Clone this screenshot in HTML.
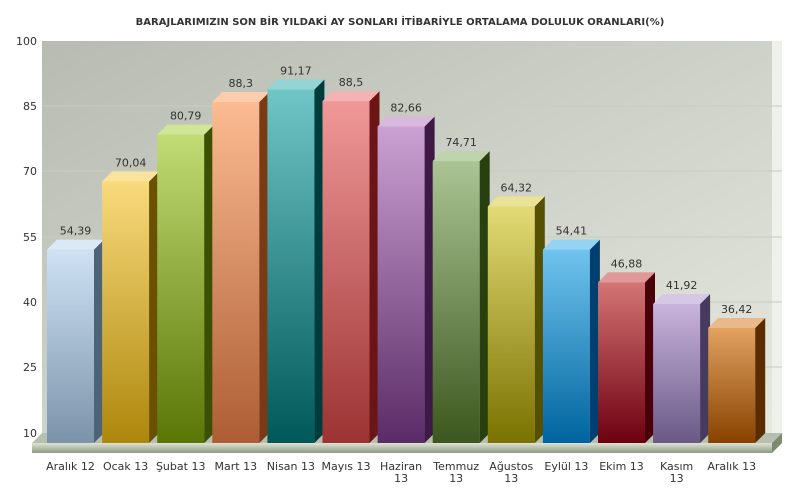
<!DOCTYPE html>
<html><head><meta charset="utf-8"><style>body{margin:0;background:#fff}svg{display:block;font-family:"DejaVu Sans","Liberation Sans",sans-serif}</style></head><body>
<svg width="800" height="500" viewBox="0 0 800 500" xmlns="http://www.w3.org/2000/svg">
<defs>
<linearGradient id="wall" x1="0" y1="0" x2="1" y2="1"><stop offset="0" stop-color="#b7bbb1"/><stop offset="1" stop-color="#e6e9e0"/></linearGradient>
<linearGradient id="floor" x1="0" y1="0" x2="0" y2="1"><stop offset="0" stop-color="#dfe3d6"/><stop offset="1" stop-color="#8e9a82"/></linearGradient>
</defs>
<text x="400" y="25" text-anchor="middle" font-size="10" font-weight="bold" fill="#333">BARAJLARIMIZIN SON BİR YILDAKİ AY SONLARI İTİBARİYLE ORTALAMA DOLULUK ORANLARI(%)</text>
<rect x="42" y="41" width="740" height="392" fill="url(#wall)"/>
<polygon points="772,41 782,41 782,433 772,443" fill="#eef0ea"/>
<g stroke="#c8ceb6" stroke-width="1">
<line x1="42" y1="106" x2="782" y2="106"/><line x1="42" y1="171" x2="782" y2="171"/><line x1="42" y1="237" x2="782" y2="237"/><line x1="42" y1="302" x2="782" y2="302"/><line x1="42" y1="367" x2="782" y2="367"/></g>
<polygon points="32,443 42,433 782,433 772,443" fill="#b8bfae"/>
<rect x="32" y="443" width="740" height="10" fill="url(#floor)"/>
<polygon points="772,443 782,433 782,443 772,453" fill="#7d8a70"/>
<g font-size="11" fill="#333" text-anchor="end">
<text x="37" y="45">100</text><text x="37" y="110">85</text><text x="37" y="175">70</text><text x="37" y="241">55</text><text x="37" y="306">40</text><text x="37" y="371">25</text><text x="37" y="437">10</text></g>
<g id="bars"></g>
<g font-size="11" fill="#333" text-anchor="middle" id="lbl"></g>
<script>
var d=[["Aralık 12",54.39,"#cfe2f4","#7b93aa","#4d6378"],["Ocak 13",70.04,"#f9da7c","#ad870c","#6b5000"],["Şubat 13",80.79,"#c0dc74","#5a7606","#3b5000"],["Mart 13",88.3,"#fcbb92","#ad5d33","#7a3a15"],["Nisan 13",91.17,"#70c6c6","#005858","#003c3c"],["Mayıs 13",88.5,"#f09898","#9c3333","#6b1515"],["Haziran|13",82.66,"#cba0d2","#5a2b66","#3e1846"],["Temmuz|13",74.71,"#aac493","#3c581e","#28400f"],["Ağustos|13",64.32,"#e2da74","#7a7200","#555000"],["Eylül 13",54.41,"#70c4ee","#00649e","#004070"],["Ekim 13",46.88,"#d47474","#6e0010","#4a0008"],["Kasım|13",41.92,"#c8b4dc","#6a5886","#463a5e"],["Aralık 13",36.42,"#e2a262","#884200","#5a2c00"]];
var ns="http://www.w3.org/2000/svg",b=document.getElementById("bars"),l=document.getElementById("lbl"),defs=document.querySelector("defs");
function el(t,a,p){var e=document.createElementNS(ns,t);for(var k in a)e.setAttribute(k,a[k]);p.appendChild(e);return e;}
d.forEach(function(r,i){var x=47+i*55.1,w=47,y=51+(100-r[1])*4.356,bt=443;
var g=el("linearGradient",{id:"g"+i,x1:0,y1:0,x2:0,y2:1},defs);el("stop",{offset:0,"stop-color":r[2]},g);el("stop",{offset:1,"stop-color":r[3]},g);
el("rect",{x:x,y:y,width:w,height:bt-y,fill:"url(#g"+i+")"},b);
el("polygon",{points:(x+w)+","+y+" "+(x+w+10)+","+(y-10)+" "+(x+w+10)+","+(bt-10)+" "+(x+w)+","+bt,fill:r[4]},b);
var tp=x+","+y+" "+(x+10)+","+(y-10)+" "+(x+w+10)+","+(y-10)+" "+(x+w)+","+y;
el("polygon",{points:tp,fill:r[2]},b);
el("polygon",{points:tp,fill:"#fff",opacity:0.25},b);
var t=el("text",{x:x+w/2+5,y:y-15},l);t.textContent=String(r[1]).replace(".",",");
var p=r[0].split("|");p.forEach(function(s,j){var u=el("text",{x:x+w/2,y:470+j*12},l);u.textContent=s;});});
</script>
</svg>
</body></html>
